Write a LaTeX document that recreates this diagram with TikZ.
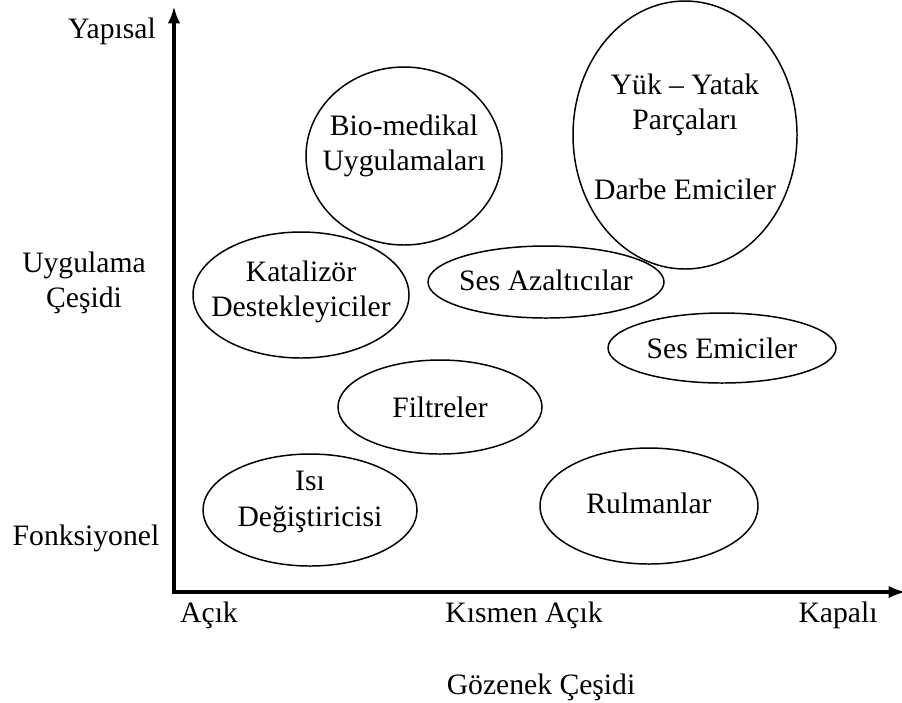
\documentclass[tikz,border=0pt]{standalone}
\usepackage{fontspec}
\setmainfont{Liberation Serif}
\usetikzlibrary{arrows.meta}
\tikzset{blob/.style={align=center,inner sep=0pt},
	ring/.style={line width=0.6pt},
	axis/.style={line width=1.6pt,-{Latex[length=7pt,width=5pt]}},
	tag/.style={align=center}}

\begin{document}
\begin{tikzpicture}[x=0.405pt,y=-0.405pt,font=\fontsize{12}{14.2}\selectfont]
\useasboundingbox (0,0) rectangle (902,702);
\coordinate (o) at (174,592);
\coordinate (top) at (174,6);
\coordinate (right) at (906,592);
\draw[axis] ([yshift=-0.8pt]o) -- (top);
\draw[axis] ([xshift=-0.8pt]o) -- (right);
% y axis labels
\node [tag] (yap) at (112,31) {Yapısal};
\node [tag] (uyg) at (84,283) {Uygulama\\Çeşidi};
\node [tag] (fon) at (86,538) {Fonksiyonel};
% x axis labels
\node [tag] (acik) at (209,615) {Açık};
\node [tag] (kism) at (524,615) {Kısmen Açık};
\node [tag] (kap) at (838,615) {Kapalı};
\node [tag] (goz) at (541,687) {Gözenek Çeşidi};
% application areas
\node [blob] (bio) at (404,146) {Bio-medikal\\Uygulamaları};
\node [blob] (yuk) at (685,137) {Yük -- Yatak\\Parçaları\\[14pt]Darbe Emiciler};
\node [blob] (kat) at (301,292) {Katalizör\\Destekleyiciler};
\node [blob] (ses) at (546,280) {Ses Azaltıcılar};
\node [blob] (emi) at (722,348) {Ses Emiciler};
\node [blob] (fil) at (440,407) {Filtreler};
\node [blob] (isi) at (310,502) {Isı\\Değiştiricisi};
\node [blob] (rul) at (649,503) {Rulmanlar};
% outlines
\draw[ring] (404,156) ellipse [x radius=98, y radius=89];
\draw[ring] (685,135) ellipse [x radius=112, y radius=134];
\draw[ring] (301,295) ellipse [x radius=108, y radius=63];
\draw[ring] (546,282) ellipse [x radius=118, y radius=36];
\draw[ring] (722,348) ellipse [x radius=114, y radius=35];
\draw[ring] (440,407) ellipse [x radius=102, y radius=47];
\draw[ring] (310,510) ellipse [x radius=107, y radius=56];
\draw[ring] (649,506) ellipse [x radius=109, y radius=58];
\end{tikzpicture}
\end{document}
